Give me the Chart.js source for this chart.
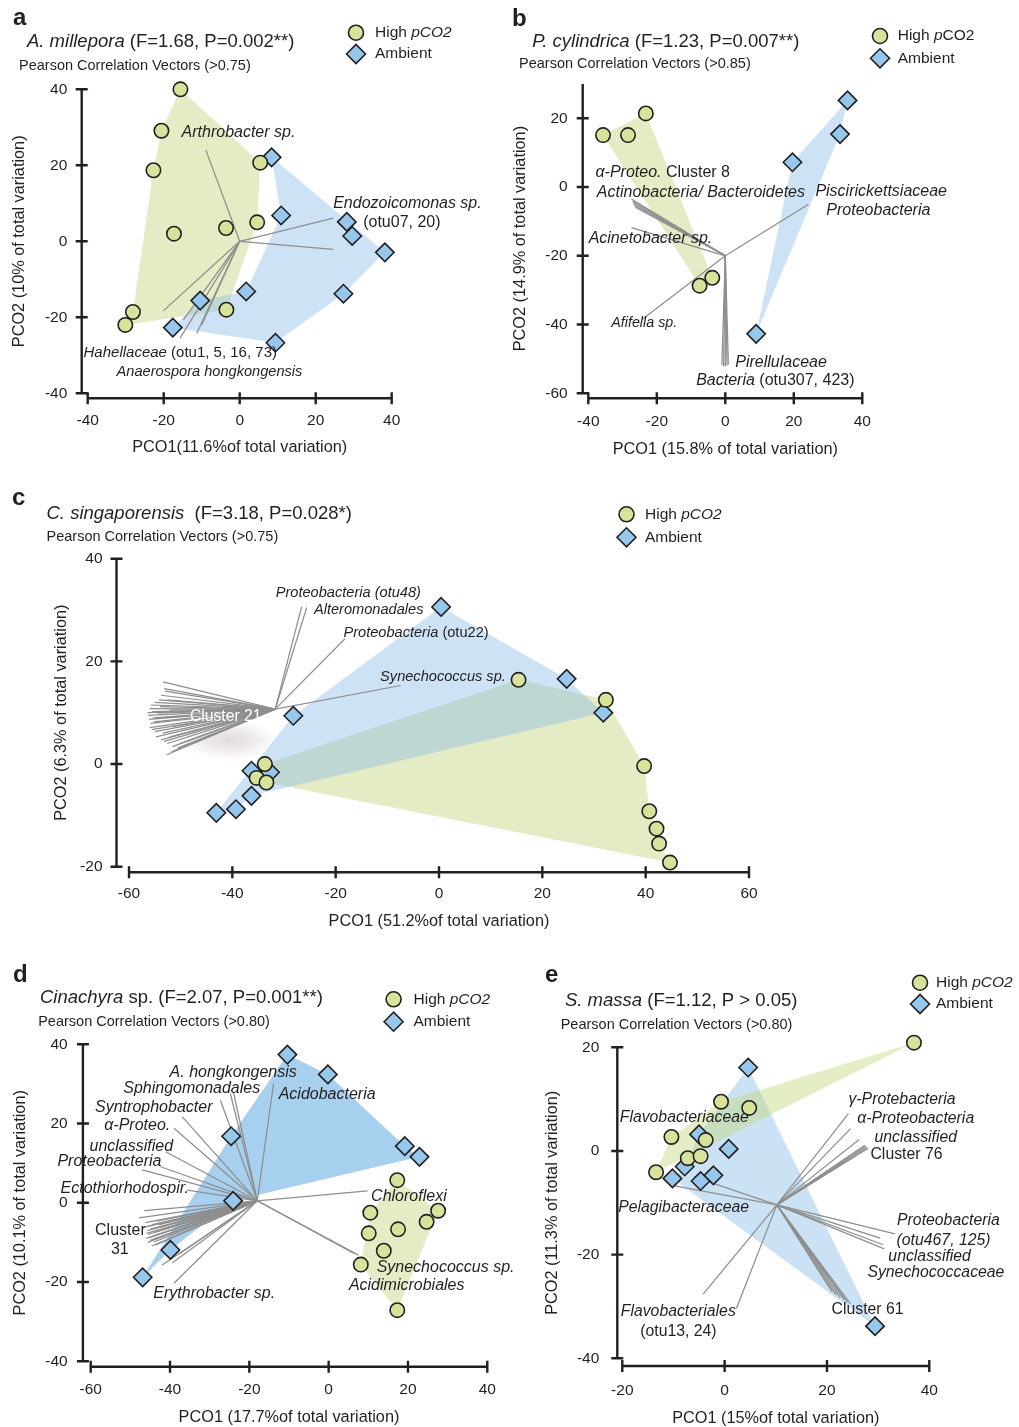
<!DOCTYPE html>
<html>
<head>
<meta charset="utf-8">
<script src="https://cdn.jsdelivr.net/npm/chart.js@4.4.0/dist/chart.umd.min.js"></script>
<style>
  body { margin: 0; background: #fff; }
  #wrap { position: relative; width: 1019px; height: 1427px; }
  #wrap canvas { position: absolute; left: 0; top: 0; }
</style>
</head>
<body>
<div id="wrap">
  <canvas id="pa" width="1019" height="1427"></canvas>
  <canvas id="pb" width="1019" height="1427"></canvas>
  <canvas id="pc" width="1019" height="1427"></canvas>
  <canvas id="pd" width="1019" height="1427"></canvas>
  <canvas id="pe" width="1019" height="1427"></canvas>
</div>
<script>
const FONT = '"Liberation Sans", Arial, Helvetica, sans-serif';
const INK = "#231f20";
const VEC = "#8e8e8e";
const HIGH_COL = "#d6e49b";
const AMB_COL = "#95c8ec";

// ---- a: A. millepora
const aXTicks = [-40, -20, 0, 20, 40];
const aYTicks = [-40, -20, 0, 20, 40];
const aHigh = [[-15.6, 40], [-20.6, 29.1], [-22.7, 18.7], [5.4, 20.7], [-17.3, 2.0], [-3.6, 3.5], [4.6, 5.0], [-28.1, -18.6], [-30.1, -22.0], [-3.5, -18.0]];
const aAmbient = [[8.4, 22.1], [10.9, 6.8], [28.2, 5.1], [29.6, 1.4], [38.2, -2.9], [27.3, -13.8], [1.7, -13.2], [-10.4, -15.6], [-17.6, -22.7], [9.4, -26.7]];
const aHullHigh = [0, 3, 6, 9, 8, 7, 2, 1];
const aHullAmbient = [0, 4, 5, 9, 8, 7, 6, 1];
const aOrigin = [0, 0];
const aVectors = [[-8.9, 24.0], [24.6, 6.1], [24.6, -2.1], [-20.1, -18.3], [-14.8, -20.7], [-15.7, -25.5], [-11.3, -24.2], [-10.0, -22.0]];

// ---- b: P. cylindrica
const bXTicks = [-40, -20, 0, 20, 40];
const bYTicks = [-60, -40, -20, 0, 20];
const bHigh = [[-35.7, 15.1], [-28.4, 15.1], [-23.2, 21.4], [-7.5, -28.7], [-3.8, -26.4]];
const bAmbient = [[35.7, 25.2], [33.5, 15.4], [19.6, 7.2], [9.0, -42.7]];
const bHullHigh = [0, 2, 4, 3];
const bHullAmbient = [0, 1, 3, 2];
const bOrigin = [0, -20];
const bVectors = [[-27.4, -3.5], [-27.1, -4.1], [-26.9, -4.7], [-26.6, -5.3], [-26.3, -5.9], [-27.4, -11.8], [24.3, -5.0], [-24.3, -38.5],
  [-1.0, -51.8], [-0.5, -52.1], [0.0, -52.2], [0.5, -51.9], [0.9, -51.6]];

// ---- c: C. singaporensis
const cXTicks = [-60, -40, -20, 0, 20, 40, 60];
const cYTicks = [-20, 0, 20, 40];
const cHigh = [[15.4, 16.4], [32.3, 12.5], [-33.7, 0.0], [-35.3, -2.7], [-33.4, -3.6], [39.7, -0.4], [40.7, -9.2], [42.1, -12.6], [42.6, -15.5], [44.7, -19.2]];
const cAmbient = [[0.4, 30.6], [24.7, 16.6], [31.8, 10.0], [-28.2, 9.4], [-36.3, -1.3], [-32.7, -1.6], [-36.3, -6.2], [-39.3, -8.8], [-43.1, -9.5]];
const cHullHigh = [2, 0, 1, 5, 6, 7, 8, 9, 4, 3];
const cHullAmbient = [8, 3, 0, 1, 2, 6, 7];
const cOrigin = [-31.7, 10.7];
const cVectors = [[-26.6, 30.6], [-25.6, 30.5], [-18.2, 24.4], [-7.4, 15.3],
  [-53.4, 16.0], [-53.2, 14.7], [-53.0, 14.2], [-53.8, 13.4], [-54.2, 12.5], [-55.0, 12.0], [-55.8, 11.5], [-56.0, 10.8],
  [-55.5, 10.2], [-56.3, 9.5], [-56.1, 8.7], [-55.8, 7.9], [-56.0, 7.1], [-55.6, 6.7], [-55.0, 6.3], [-54.8, 5.3],
  [-53.8, 4.7], [-53.2, 4.4], [-52.6, 4.0], [-51.6, 3.4], [-52.7, 1.8], [-51.8, 2.4], [-50.6, 3.1], [-50.1, 4.0],
  [-52.1, 5.3], [-51.6, 7.3], [-53.0, 9.1], [-52.1, 10.5], [-52.6, 12.5], [-54.5, 9.9], [-55.2, 8.2], [-53.5, 6.0],
  [-54.0, 11.2], [-56.4, 10.0], [-55.4, 9.0]];

// ---- d: Cinachyra sp.
const dXTicks = [-60, -40, -20, 0, 20, 40];
const dYTicks = [-40, -20, 0, 20, 40];
const dHigh = [[17.3, 5.7], [10.5, -2.5], [10.1, -7.7], [17.5, -6.7], [27.6, -2.0], [24.7, -4.8], [13.9, -12.1], [8.1, -15.6], [17.3, -27.1]];
const dAmbient = [[-10.4, 37.4], [-0.2, 32.4], [-24.6, 16.8], [19.2, 14.3], [22.9, 11.6], [-24.1, 0.5], [-39.9, -11.9], [-46.9, -18.8]];
const dHullHigh = [0, 4, 8, 7, 1];
const dHullAmbient = [7, 2, 0, 1, 3, 4, 5, 6];
const dOrigin = [-18.0, 0.5];
const dVectors = [[-24.8, 27.6], [-24.0, 27.9], [-27.3, 25.9], [-13.9, 30.1], [-36.9, 21.7], [-39.0, 18.8], [-41.1, 12.9],
  [-42.4, 9.1], [-47.0, 8.3], [-35.7, 3.2], [9.8, 3.0], [6.4, -12.8], [7.5, -13.2],
  [-39.0, -20.3], [-42.0, -15.7], [-39.4, -15.1], [-37.5, -12.8],
  [-46.5, -2.0], [-47.8, -3.8], [-46.2, -5.0], [-45.4, -5.9], [-45.7, -7.0], [-45.5, -8.0], [-46.0, -9.0], [-45.6, -10.0],
  [-44.6, -10.9], [-45.0, -9.5], [-44.2, -8.4], [-43.8, -7.4], [-43.0, -6.3], [-44.5, -5.5], [-43.3, -4.6], [-44.8, -6.6],
  [-45.9, -7.7], [-44.0, -9.9], [-43.6, -10.6], [-45.2, -8.8], [-42.8, -5.5], [-46.8, -6.2]];

// ---- e: S. massa
const eXTicks = [-20, 0, 20, 40];
const eYTicks = [-40, -20, 0, 20];
const eHigh = [[37.0, 20.9], [-0.7, 9.5], [4.8, 8.3], [-10.4, 2.7], [-3.7, 2.1], [-7.2, -1.4], [-4.7, -1.0], [-13.4, -4.1]];
const eAmbient = [[4.6, 16.1], [-5.0, 3.2], [0.8, 0.4], [-7.8, -3.0], [-10.2, -5.3], [-4.7, -5.8], [-2.2, -4.7], [29.4, -33.8]];
const eHullHigh = [0, 1, 3, 7];
const eHullAmbient = [0, 7, 4, 3, 1];
const eOrigin = [10.2, -10.4];
const eVectors = [[24.2, 7.2], [24.6, 4.3], [26.3, 2.2], [27.4, 1.1], [27.6, 0.9], [27.8, 0.7], [28.0, 0.5],
  [33.3, -16.0], [30.4, -16.8], [31.0, -18.1], [31.2, -18.9],
  [21.0, -27.2], [21.8, -27.8], [22.6, -28.3], [23.4, -28.8], [24.0, -29.2], [24.6, -29.5],
  [-10.0, -6.7], [-6.0, -5.0], [-4.2, -27.6], [2.3, -30.4]];

const panels = {
  pa: {
    high: aHigh, amb: aAmbient, hullHigh: aHullHigh, hullAmb: aHullAmbient, origin: aOrigin, vectors: aVectors,
    xTicks: aXTicks, yTicks: aYTicks, xRange: [-40, 40], yRange: [-40, 40],
    box: [87.7, 89.3, 391.7, 393.3], gap: [6, 5], yLabX: 67.3, xLabY: 420.7,
    letter: ["a", 13, 25], title: ["_A. millepora_ (F=1.68, P=0.002**)", 27, 42], sub: ["Pearson Correlation Vectors (>0.75)", 19, 66],
    legend: [356, 32.7, 54, 375, "High _pCO2_"],
    yTitle: ["PCO2 (10% of total variation)", 20, 241.3], xTitle: ["PCO1(11.6%of total variation)", 239.7, 448],
    labels: [[-15.3, 28.6, "_Arthrobacter sp._", 16], [24.6, 10.0, "_Endozoicomonas sp._", 16], [32.5, 4.9, "(otu07, 20)", 16],
      [-41.1, -29.3, "_Hahellaceae_ (otu1, 5, 16, 73)", 15], [-32.4, -34.3, "_Anaerospora hongkongensis_", 14.6]]
  },
  pb: {
    high: bHigh, amb: bAmbient, hullHigh: bHullHigh, hullAmb: bHullAmbient, origin: bOrigin, vectors: bVectors,
    xTicks: bXTicks, yTicks: bYTicks, xRange: [-40, 40], yRange: [-60, 30],
    box: [588.3, 83.9, 862.3, 393.3], gap: [5.6, 5], yLabX: 567.7, xLabY: 421.7,
    letter: ["b", 512, 26], title: ["_P. cylindrica_ (F=1.23, P=0.007**)", 532.3, 41.7], sub: ["Pearson Correlation Vectors (>0.85)", 519, 64],
    legend: [880, 36, 58.3, 897.7, "High _p_CO2"],
    yTitle: ["PCO2 (14.9% of total variation)", 521, 238.6], xTitle: ["PCO1 (15.8% of total variation)", 725.3, 450],
    labels: [[-37.9, 4.2, "_α-Proteo._ Cluster 8", 16], [-37.5, -1.65, "_Actinobacteria/ Bacteroidetes_", 16],
      [26.3, -1.4, "_Piscirickettsiaceae_", 16], [29.5, -6.7, "_Proteobacteria_", 16], [-39.9, -15.1, "_Acinetobacter sp._", 16],
      [-33.3, -39.7, "_Afifella sp._", 14.3], [2.9, -51.1, "_Pirellulaceae_", 16], [-8.5, -56.4, "_Bacteria_ (otu307, 423)", 16]]
  },
  pc: {
    high: cHigh, amb: cAmbient, hullHigh: cHullHigh, hullAmb: cHullAmbient, origin: cOrigin, vectors: cVectors,
    xTicks: cXTicks, yTicks: cYTicks, xRange: [-60, 60], yRange: [-20, 40],
    box: [129, 558.7, 749, 866.7], gap: [12.5, 5.6], yLabX: 102.5, xLabY: 893.3,
    letter: ["c", 12, 505], title: ["_C. singaporensis_  (F=3.18, P=0.028*)", 46.5, 514.3], sub: ["Pearson Correlation Vectors (>0.75)", 46.5, 537.3],
    legend: [626.5, 514.3, 537.3, 645, "High _pCO2_"],
    yTitle: ["PCO2 (6.3% of total variation)", 61.5, 712.7], xTitle: ["PCO1 (51.2%of total variation)", 439, 921.7],
    shadow: [-40.5, 4.7],
    labels: [[-31.6, 33.4, "_Proteobacteria (otu48)_", 14.6], [-24.2, 30.0, "_Alteromonadales_", 14.6],
      [-18.5, 25.6, "_Proteobacteria_ (otu22)", 14.6], [-11.4, 17.0, "_Synechococcus sp._", 14.6],
      [-48.2, 9.2, "Cluster 21", 15.7, "#ffffff"]]
  },
  pd: {
    high: dHigh, amb: dAmbient, hullHigh: dHullHigh, hullAmb: dHullAmbient, origin: dOrigin, vectors: dVectors,
    xTicks: dXTicks, yTicks: dYTicks, xRange: [-60, 40], yRange: [-40, 40],
    box: [90.7, 1044.3, 487.3, 1361.3], gap: [7.8, 5.4], yLabX: 67.7, xLabY: 1390,
    letter: ["d", 13, 982], title: ["_Cinachyra_ sp. (F=2.07, P=0.001**)", 40, 998.3], sub: ["Pearson Correlation Vectors (>0.80)", 38.2, 1022],
    legend: [393.6, 999.3, 1021.7, 413.5, "High _pCO2_"],
    yTitle: ["PCO2 (10.1% of total variation)", 20.3, 1202.8], xTitle: ["PCO1 (17.7%of total variation)", 289, 1417.3],
    blueFill: "#a7cfee",
    labels: [[-40.1, 32.8, "_A. hongkongensis_", 16], [-51.8, 28.8, "_Sphingomonadales_", 16], [-12.6, 27.4, "_Acidobacteria_", 16],
      [-58.9, 24.1, "_Syntrophobacter_", 16], [-56.6, 19.4, "_α-Proteo._", 16], [-60.3, 14.3, "_unclassified_", 16],
      [-68.4, 10.3, "_Proteobacteria_", 16], [-67.6, 3.6, "_Ectothiorhodospir._", 16], [-58.9, -6.9, "Cluster", 16], [-54.9, -11.8, "31", 16],
      [10.7, 1.5, "_Chloroflexi_", 16], [12.1, -16.3, "_Synechococcus sp._", 16], [5.1, -20.8, "_Acidimicrobiales_", 16],
      [-44.2, -22.9, "_Erythrobacter sp._", 16]]
  },
  pe: {
    high: eHigh, amb: eAmbient, hullHigh: eHullHigh, hullAmb: eHullAmbient, origin: eOrigin, vectors: eVectors,
    xTicks: eXTicks, yTicks: eYTicks, xRange: [-20, 40], yRange: [-40, 20],
    box: [622.3, 1047.3, 929.3, 1358.3], gap: [5, 7.7], yLabX: 599.3, xLabY: 1390.7,
    letter: ["e", 545, 982], title: ["_S. massa_ (F=1.12, P > 0.05)", 565, 1000.7], sub: ["Pearson Correlation Vectors (>0.80)", 560.7, 1025],
    legend: [920, 982.7, 1004, 936, "High _pCO2_"],
    yTitle: ["PCO2 (11.3% of total variation)", 552.7, 1202.8], xTitle: ["PCO1 (15%of total variation)", 775.8, 1418.3],
    greenTop: true,
    labels: [[-20.5, 6.4, "_Flavobacteriaceae_", 15.8], [24.2, 10.0, "_γ-Protebacteria_", 15.8], [25.9, 6.3, "_α-Proteobacteria_", 15.8],
      [29.3, 2.5, "_unclassified_", 15.8], [28.5, -0.8, "Cluster 76", 15.8], [-20.8, -11.0, "_Pelagibacteraceae_", 15.8],
      [33.7, -13.4, "_Proteobacteria_", 15.8], [33.6, -17.3, "_(otu467, 125)_", 15.8], [32.0, -20.4, "_unclassified_", 15.8],
      [27.9, -23.4, "_Synechococcaceae_", 15.8], [20.9, -30.7, "Cluster 61", 15.8], [-20.3, -31.0, "_Flavobacteriales_", 15.8],
      [-16.5, -34.8, "(otu13, 24)", 15.8]]
  }
};

// text with _italic_ parts
function richText(ctx, x, y, str, size, align, color) {
  const segs = str.split("_").map((t, i) => ({ t, it: i % 2 === 1 }));
  let total = 0;
  segs.forEach(s => {
    ctx.font = (s.it ? "italic " : "") + size + "px " + FONT;
    s.w = ctx.measureText(s.t).width;
    total += s.w;
  });
  let cx = align === "center" ? x - total / 2 : align === "right" ? x - total : x;
  ctx.textAlign = "left";
  ctx.textBaseline = "middle";
  ctx.fillStyle = color || INK;
  segs.forEach(s => {
    ctx.font = (s.it ? "italic " : "") + size + "px " + FONT;
    ctx.fillText(s.t, cx, y);
    cx += s.w;
  });
}

function drawCircle(ctx, x, y, r) {
  ctx.beginPath();
  ctx.arc(x, y, r, 0, Math.PI * 2);
  ctx.fillStyle = HIGH_COL; ctx.fill();
  ctx.lineWidth = 1.6; ctx.strokeStyle = INK; ctx.stroke();
}

function drawDiamond(ctx, x, y, r) {
  ctx.beginPath();
  ctx.moveTo(x - r, y); ctx.lineTo(x, y - r); ctx.lineTo(x + r, y); ctx.lineTo(x, y + r);
  ctx.closePath();
  ctx.fillStyle = AMB_COL; ctx.fill();
  ctx.lineWidth = 1.6; ctx.strokeStyle = INK; ctx.stroke();
}

const panelPlugin = {
  id: "panel",
  beforeDatasetsDraw(chart) {
    const P = panels[chart.canvas.id];
    const ctx = chart.ctx, xs = chart.scales.x, ys = chart.scales.y;
    ctx.save();
    let hulls = [
      [P.hullHigh, P.high, "#e3ecc4"],
      [P.hullAmb, P.amb, P.blueFill || "rgba(144,191,231,0.45)"]
    ];
    if (P.greenTop) {
      hulls = [
        [P.hullAmb, P.amb, "#cbe2f5"],
        [P.hullHigh, P.high, "rgba(190,214,120,0.42)"]
      ];
    }
    hulls.forEach(([order, pts, col]) => {
      ctx.beginPath();
      order.forEach((k, i) => {
        const x = xs.getPixelForValue(pts[k][0]), y = ys.getPixelForValue(pts[k][1]);
        if (i) ctx.lineTo(x, y); else ctx.moveTo(x, y);
      });
      ctx.closePath();
      ctx.fillStyle = col;
      ctx.fill();
    });
    if (P.shadow) {
      ctx.translate(xs.getPixelForValue(P.shadow[0]), ys.getPixelForValue(P.shadow[1]));
      ctx.scale(2.4, 1);
      const g = ctx.createRadialGradient(0, 0, 0, 0, 0, 20);
      g.addColorStop(0, "rgba(200,190,195,0.55)");
      g.addColorStop(0.5, "rgba(205,196,200,0.35)");
      g.addColorStop(1, "rgba(210,200,205,0)");
      ctx.fillStyle = g;
      ctx.beginPath(); ctx.arc(0, 0, 20, 0, Math.PI * 2); ctx.fill();
    }
    ctx.restore();
  },
  afterDatasetsDraw(chart) {
    const P = panels[chart.canvas.id];
    const ctx = chart.ctx, xs = chart.scales.x, ys = chart.scales.y;
    const area = chart.chartArea;
    ctx.save();

    P.labels.forEach(l => richText(ctx, xs.getPixelForValue(l[0]), ys.getPixelForValue(l[1]), l[2], l[3], "left", l[4]));

    // detached axes with crossing ticks
    const axX = area.left - P.gap[0], axY = area.bottom + P.gap[1];
    ctx.strokeStyle = INK; ctx.lineWidth = 2.4; ctx.lineCap = "butt";
    ctx.beginPath();
    ctx.moveTo(axX, ys.getPixelForValue(ys.max)); ctx.lineTo(axX, ys.getPixelForValue(ys.min));
    ctx.moveTo(xs.getPixelForValue(xs.min), axY); ctx.lineTo(xs.getPixelForValue(xs.max), axY);
    P.yTicks.forEach(v => { const y = ys.getPixelForValue(v); ctx.moveTo(axX - 6, y); ctx.lineTo(axX + 6, y); });
    P.xTicks.forEach(v => { const x = xs.getPixelForValue(v); ctx.moveTo(x, axY - 6); ctx.lineTo(x, axY + 6); });
    ctx.stroke();
    P.yTicks.forEach(v => richText(ctx, P.yLabX, ys.getPixelForValue(v), String(v), 15.5, "right"));
    P.xTicks.forEach(v => richText(ctx, xs.getPixelForValue(v), P.xLabY, String(v), 15.5, "center"));

    richText(ctx, P.xTitle[1], P.xTitle[2], P.xTitle[0], 16.3, "center");
    ctx.save();
    ctx.translate(P.yTitle[1], P.yTitle[2]);
    ctx.rotate(-Math.PI / 2);
    richText(ctx, 0, 0, P.yTitle[0], 16.3, "center");
    ctx.restore();

    // heading
    ctx.font = "bold 24px " + FONT;
    ctx.fillStyle = INK; ctx.textAlign = "left"; ctx.textBaseline = "alphabetic";
    ctx.fillText(P.letter[0], P.letter[1], P.letter[2]);
    richText(ctx, P.title[1], P.title[2], P.title[0], 18.5, "left");
    richText(ctx, P.sub[1], P.sub[2], P.sub[0], 14.5, "left");

    // legend
    const lg = P.legend;
    drawCircle(ctx, lg[0], lg[1], 7.5);
    drawDiamond(ctx, lg[0], lg[2], 9.5);
    richText(ctx, lg[3], lg[1], lg[4], 15.5, "left");
    richText(ctx, lg[3], lg[2], "Ambient", 15.5, "left");
    ctx.restore();
  }
};

const xy = pts => pts.map(p => ({ x: p[0], y: p[1] }));

function build(id) {
  const P = panels[id];
  const W = 1019, H = 1427;
  const datasets = [
    { data: xy(P.high), pointStyle: "circle", pointRadius: 7.2, pointBackgroundColor: HIGH_COL,
      pointBorderColor: INK, pointBorderWidth: 1.6, clip: false },
    { data: xy(P.amb), pointStyle: "rectRot", pointRadius: 9.2, pointBackgroundColor: AMB_COL,
      pointBorderColor: INK, pointBorderWidth: 1.6, clip: false }
  ];
  P.vectors.forEach(v => {
    datasets.push({
      data: xy([P.origin, v]), showLine: true, borderColor: VEC, borderWidth: 1.25,
      pointRadius: 0, clip: false
    });
  });
  return new Chart(document.getElementById(id), {
    type: "scatter",
    data: { datasets },
    options: {
      responsive: false,
      animation: false,
      events: [],
      layout: { padding: { left: P.box[0], top: P.box[1], right: W - P.box[2], bottom: H - P.box[3] } },
      scales: {
        x: { type: "linear", min: P.xRange[0], max: P.xRange[1], display: false },
        y: { type: "linear", min: P.yRange[0], max: P.yRange[1], display: false }
      },
      plugins: { legend: { display: false }, tooltip: { enabled: false } }
    },
    plugins: [panelPlugin]
  });
}

["pa", "pb", "pc", "pd", "pe"].forEach(build);
</script>
</body>
</html>
